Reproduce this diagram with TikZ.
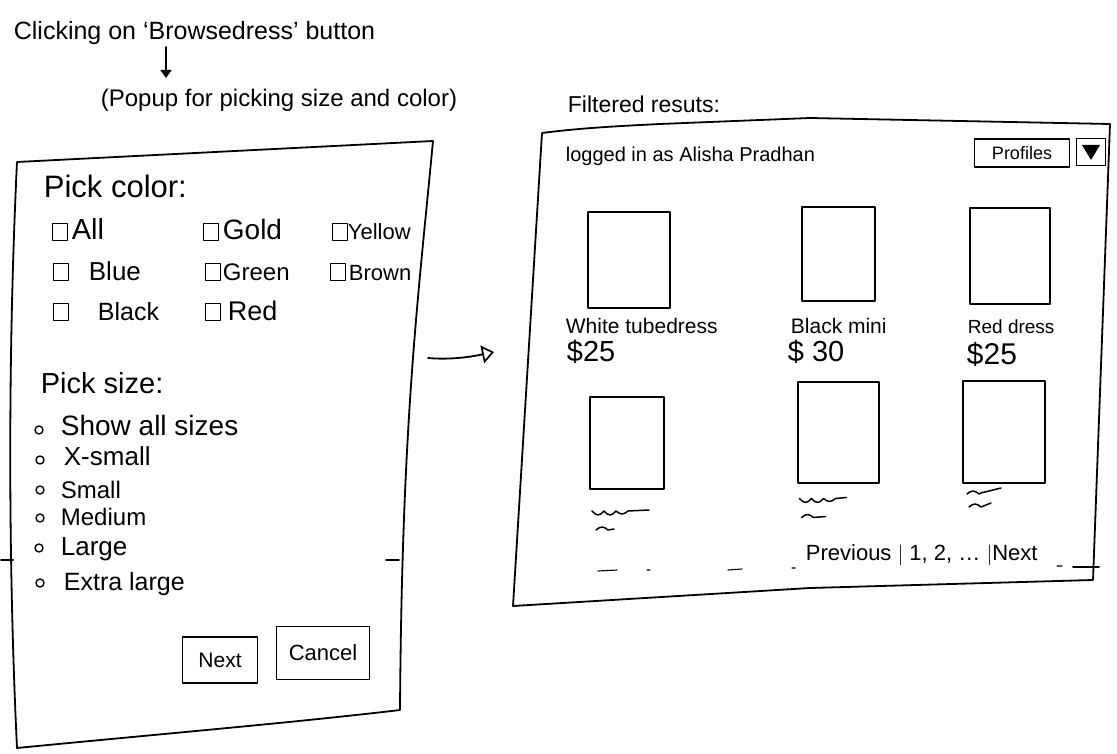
\documentclass[tikz,border=0pt]{standalone}
\usepackage{fontspec}
\setmainfont{Liberation Sans}
\usetikzlibrary{arrows.meta}
\newcommand{\fsz}[1]{\fontsize{#1}{#1}\selectfont}
\begin{document}
\begin{tikzpicture}[x=1pt,y=-1pt,
  line width=1.8pt, line join=round, line cap=round,
  txt/.style={anchor=base west, inner sep=0pt},
  cbox/.style={draw, line width=1.5pt, minimum width=15pt, minimum height=17pt, inner sep=0pt},
  radio/.style={draw, circle, line width=1.4pt, minimum size=8pt, inner sep=0pt},
  thumb/.style={draw, line width=2pt, inner sep=0pt},
  btn/.style={draw, line width=1.8pt, inner sep=4pt},
  squig/.style={line width=1.5pt},
  tickmark/.style={line width=1.1pt},
  flow/.style={line width=1.8pt, -{Triangle[open, length=12pt, width=18pt, line width=1.7pt]}},
  down/.style={line width=1.7pt, -{Triangle[length=8pt, width=11pt]}},
]
\useasboundingbox (0,0) rectangle (1117,754);

% ---------- headings ----------
\node[txt, font=\fsz{25}] (click) at (13,40) {Clicking on `Browsedress' button};
\node[txt, font=\fsz{24}] (popup) at (100,107) {(Popup for picking size and color)};
\coordinate (dnA) at (166,47);
\coordinate (dnB) at (166,78);
\draw[down] (dnA) -- (dnB);

% ---------- popup window ----------
\coordinate (pTL) at (17,162);
\coordinate (pTR) at (433,141);
\coordinate (pBR) at (400,710);
\coordinate (pBL) at (17,748);
\draw (pTL) -- (pTR) .. controls (418,300) and (402,420) .. (pBR)
      .. controls (300,722) and (150,735) .. (pBL)
      .. controls (8,560) and (8,350) .. (pTL) -- cycle;
\draw (1,560) -- (13,560);
\draw (386,560) -- (399,560);

\node[txt, font=\fsz{31}] (pickc) at (43,198) {Pick color:};

% colour checkboxes
\node[cbox] (cbAll)    at (60,232) {};  \node[txt, font=\fsz{29}] (lAll)    at (71,240) {All};
\node[cbox] (cbGold)   at (211,232) {}; \node[txt, font=\fsz{28}] (lGold)   at (222,240) {Gold};
\node[cbox] (cbYellow) at (340,232) {}; \node[txt, font=\fsz{22}] (lYellow) at (347,240) {Yellow};
\node[cbox] (cbBlue)   at (61,272) {};  \node[txt, font=\fsz{26}] (lBlue)   at (88,280) {Blue};
\node[cbox] (cbGreen)  at (213,272) {}; \node[txt, font=\fsz{24}] (lGreen)  at (222,280) {Green};
\node[cbox] (cbBrown)  at (338,272) {}; \node[txt, font=\fsz{22}] (lBrown)  at (348,280) {Brown};
\node[cbox] (cbBlack)  at (61,312) {};  \node[txt, font=\fsz{25}] (lBlack)  at (97,320) {Black};
\node[cbox] (cbRed)    at (213,312) {}; \node[txt, font=\fsz{27}] (lRed)    at (227,320) {Red};

\node[txt, font=\fsz{29}] (picks) at (40,393) {Pick size:};

% size radio buttons
\node[radio] (r1) at (39,430) {}; \node[txt, font=\fsz{28}] (s1) at (60,435) {Show all sizes};
\node[radio] (r2) at (40,460) {}; \node[txt, font=\fsz{26}] (s2) at (63,465) {X-small};
\node[radio] (r3) at (40,490) {}; \node[txt, font=\fsz{24}] (s3) at (60,498) {Small};
\node[radio] (r4) at (40,518) {}; \node[txt, font=\fsz{24}] (s4) at (60,525) {Medium};
\node[radio] (r5) at (39,548) {}; \node[txt, font=\fsz{26}] (s5) at (60,555) {Large};
\node[radio] (r6) at (40,583) {}; \node[txt, font=\fsz{25}] (s6) at (63,590) {Extra large};

\node[btn, font=\fsz{21}, minimum width=75pt, minimum height=46pt] (bNext) at (220,660) {Next};
\node[btn, font=\fsz{22}, minimum width=93pt, minimum height=53pt] (bCancel) at (323,653) {Cancel};

% ---------- flow to results ----------
\coordinate (arS) at (428,358);
\coordinate (arE) at (494,352);
\draw[flow] (arS) .. controls (450,360) and (470,357) .. (arE);

% ---------- results window ----------
\node[txt, font=\fsz{23}] (ftitle) at (567,113) {Filtered resuts:};

\coordinate (rTL) at (542,133);
\coordinate (rTR) at (1110,124);
\coordinate (rBR) at (1093,580);
\coordinate (rBL) at (513,606);
\draw (rTL) .. controls (580,128) and (620,126) .. (660,124) -- (810,118) -- (rTR)
      -- (rBR) -- (810,588) -- (rBL) -- cycle;

\node[txt, font=\fsz{20}] (login) at (565,162) {logged in as Alisha Pradhan};
\node[draw, line width=1.4pt, font=\fsz{18}, minimum width=95pt, minimum height=28pt, inner sep=2pt] (prof) at (1022,153) {Profiles};
\node[draw, line width=1.6pt, minimum width=29pt, minimum height=27pt, inner sep=0pt] (drop) at (1091,152) {};
\fill ([shift={(-9,-7)}]drop.center) -- ([shift={(9,-7)}]drop.center) -- ([shift={(0,8)}]drop.center) -- cycle;

% first row of products
\node[thumb, minimum width=82pt, minimum height=96pt] (t1) at (629,260) {};
\node[thumb, minimum width=73pt, minimum height=93pt] (t2) at (838,254) {};
\node[thumb, minimum width=80pt, minimum height=95pt] (t3) at (1010,256) {};

\node[txt, font=\fsz{21}] (n1) at (565,333) {White tubedress};
\node[txt, font=\fsz{29}] (p1) at (566,361) {\$25};
\node[txt, font=\fsz{21}] (n2) at (790,333) {Black mini};
\node[txt, font=\fsz{29}] (p2) at (787,361) {\$ 30};
\node[txt, font=\fsz{19}] (n3) at (967,333) {Red dress};
\node[txt, font=\fsz{30}] (p3) at (966,364) {\$25};

% second row of products
\node[thumb, minimum width=74pt, minimum height=92pt] (t4) at (627,443) {};
\node[thumb, minimum width=81pt, minimum height=101pt] (t5) at (838,432) {};
\node[thumb, minimum width=82pt, minimum height=102pt] (t6) at (1004,432) {};

% placeholder captions
\draw[squig] ([shift={(3,21)}]t4.south west) sin ++(6,4) cos ++(6,-4) sin ++(6,4) cos ++(6,-4) sin ++(6,3) cos ++(6,-3) -- ++(21,-1);
\draw[squig] ([shift={(7,40)}]t4.south west) sin ++(6,-3) cos ++(6,3) -- ++(6,-1);
\draw[squig] ([shift={(3,15)}]t5.south west) sin ++(6,4) cos ++(6,-4) sin ++(6,4) cos ++(6,-4) sin ++(6,3) cos ++(6,-3) -- ++(11,-1);
\draw[squig] ([shift={(5,34)}]t5.south west) sin ++(6,-3) cos ++(6,3) -- ++(12,-1);
\draw[squig] ([shift={(5,10)}]t6.south west) sin ++(6,-3) cos ++(6,3) sin ++(6,-2) -- ++(16,-4);
\draw[squig] ([shift={(7,23)}]t6.south west) sin ++(6,-3) cos ++(6,3) -- ++(10,-4);

\node[txt, font=\fsz{22}] (pager) at (805,560) {Previous $|$ 1, 2, \dots\ $|$Next};

% short marks along the bottom of the page
\draw[tickmark] (598,571) -- (617,570) (647,570) -- (650,570) (728,570) -- (742,569)
            (792,568) -- (795,568) (1057,566) -- (1062,566);
\draw (1073,567) -- (1099,567);

\end{tikzpicture}
\end{document}
